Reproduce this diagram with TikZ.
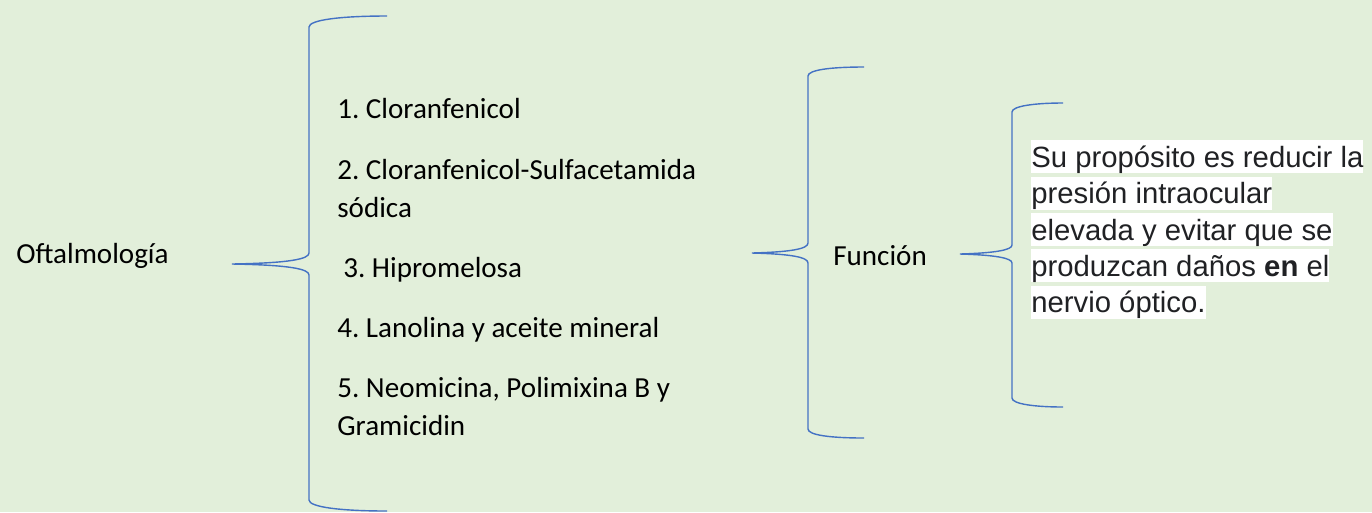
\documentclass[tikz,border=0pt]{standalone}
\usepackage{fontspec}
\setmainfont{Carlito}
\newfontfamily\arialfont{Liberation Sans}
\usetikzlibrary{positioning}
\definecolor{bggreen}{HTML}{E2EFDA}
\definecolor{braceblue}{HTML}{4472C4}
\definecolor{inkgray}{HTML}{202124}
\frenchspacing

\begin{document}
\begin{tikzpicture}[x=0.02cm,y=-0.02cm,
        item/.style={anchor=base west,inner sep=0pt,align=left,
            font=\fontsize{16.55}{21.5}\selectfont},
        line/.style={anchor=base west,inner sep=0pt,fill=white,text=inkgray,
            text height=15.3pt,text depth=3.4pt,
            font=\arialfont\fontsize{16.67}{20.6}\selectfont},
        brace/.style={draw=braceblue,line width=0.8pt}
        ]
        \useasboundingbox[fill=bggreen] (0,0) rectangle (1372,512);
        \node (oft) [item] at (16,263) {Oftalmología};
        % lista de medicamentos (nodos de dos lineas: base = ultima linea)
        \node (m1) [item] at (337,118) {1. Cloranfenicol};
        \node (m2) [item] at (337,217) {2. Cloranfenicol-Sulfacetamida\\sódica};
        \node (m3) [item] at (343,277) {3. Hipromelosa};
        \node (m4) [item] at (337,337) {4. Lanolina y aceite mineral};
        \node (m5) [item] at (337,435) {5. Neomicina, Polimixina B y\\Gramicidin};
        \node (fun) [item] at (833,265) {Función};
        % texto resaltado
        \node (l1) [line] at (1031,167.3) {Su propósito es reducir la};
        \node (l2) [line] at (1031,203.6) {presión intraocular};
        \node (l3) [line] at (1031,240) {elevada y evitar que se};
        \node (l4) [line] at (1031,276.3) {produzcan daños \textbf{en} el};
        \node (l5) [line] at (1031,312.6) {nervio óptico.};
        % llaves
        \coordinate (t1) at (232,264);
        \coordinate (t2) at (752,253);
        \coordinate (t3) at (960,254);
        \draw[brace] (387,16) .. controls (340,16) and (309,20) .. (309,27) -- (309,253)
            .. controls (309,259) and (290,263) .. (t1)
            .. controls (290,265) and (309,269) .. (309,275) -- (309,500)
            .. controls (309,507) and (340,511) .. (387,511);
        \draw[brace] (864,67) .. controls (830,67) and (808,70) .. (808,76) -- (808,243)
            .. controls (808,249) and (790,252) .. (t2)
            .. controls (790,254) and (808,257) .. (808,263) -- (808,429)
            .. controls (808,435) and (830,438) .. (864,438);
        \draw[brace] (1063,103) .. controls (1035,103) and (1012,106) .. (1012,112) -- (1012,245)
            .. controls (1012,250) and (995,253) .. (t3)
            .. controls (995,255) and (1012,258) .. (1012,263) -- (1012,398)
            .. controls (1012,404) and (1035,407) .. (1063,407);
    \end{tikzpicture}
\end{document}
